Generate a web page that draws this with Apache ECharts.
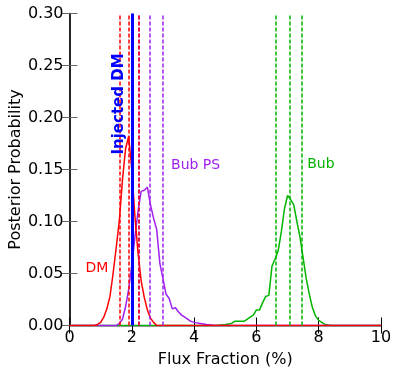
<!DOCTYPE html>
<html>
<head>
<meta charset="utf-8">
<script src="https://cdn.jsdelivr.net/npm/echarts@6/dist/echarts.min.js"></script>
<style>
  html, body { margin: 0; padding: 0; background: #fff; }
  #chart { width: 399px; height: 374px; }
</style>
</head>
<body>
<div id="chart"></div>
<script>
// posterior curves
const dmX = [0, 0.8, 0.9, 1.0, 1.1, 1.2, 1.3, 1.4, 1.5, 1.6, 1.7, 1.8, 1.9, 2.0, 2.1, 2.2, 2.3, 2.4, 2.5, 2.6, 2.7, 2.8, 10]
const dmY = [0, 0, 0.001, 0.003, 0.008, 0.016, 0.028, 0.05, 0.075, 0.101, 0.14, 0.17, 0.182, 0.15, 0.105, 0.07, 0.043, 0.027, 0.015, 0.007, 0.003, 0, 0]

const psX = [0, 1.5, 1.6, 1.7, 1.8, 1.9, 2.0, 2.1, 2.2, 2.3, 2.4, 2.5, 2.6, 2.7, 2.8, 2.9, 3.0, 3.1, 3.2, 3.3, 3.4, 3.5, 3.6, 3.7, 3.8, 3.9, 4.0, 4.2, 4.4, 4.7, 10]
const psY = [0, 0, 0.002, 0.006, 0.018, 0.035, 0.058, 0.085, 0.11, 0.129, 0.13, 0.133, 0.116, 0.103, 0.092, 0.06, 0.045, 0.03, 0.026, 0.016, 0.017, 0.013, 0.01, 0.008, 0.006, 0.004, 0.003, 0.002, 0.001, 0, 0]

const bubX = [0, 4.7, 5.0, 5.2, 5.3, 5.6, 5.7, 5.8, 5.9, 6.0, 6.1, 6.2, 6.3, 6.4, 6.5, 6.6, 6.7, 6.8, 6.9, 7.0, 7.1, 7.2, 7.3, 7.4, 7.5, 7.6, 7.7, 7.8, 7.9, 8.0, 8.1, 8.2, 8.4, 10]
const bubY = [0, 0, 0.001, 0.002, 0.004, 0.004, 0.006, 0.008, 0.01, 0.015, 0.015, 0.022, 0.028, 0.029, 0.057, 0.064, 0.072, 0.09, 0.112, 0.125, 0.121, 0.116, 0.1, 0.085, 0.065, 0.045, 0.03, 0.017, 0.009, 0.005, 0.003, 0.001, 0, 0]

// credible interval lines (16/50/84 %) and injected value
const dmLines = [1.62, 1.91, 2.21]
const psLines = [2.21, 2.57, 2.99]
const bubLines = [6.61, 7.08, 7.46]
const injectedDM = 2.0

const RED = '#ff0000'
const PURPLE = '#a020f0'
const GREEN = '#00b400'
const BLUE = '#0000ff'
const FONT = 'DejaVu Sans'

function pairs(xs, ys) {
  return xs.map((x, i) => [x, ys[i]])
}

function vlines(vals, color) {
  return {
    silent: true,
    symbol: 'none',
    label: { show: false },
    lineStyle: { color: color, type: [4, 2], width: 1.5 },
    data: vals.map(v => ({ xAxis: v }))
  }
}

function textMark(coord, text, color, extra) {
  return {
    silent: true,
    symbolSize: 0,
    data: [{
      coord: coord,
      label: Object.assign({
        show: true,
        formatter: text,
        color: color,
        fontFamily: FONT,
        fontSize: 14
      }, extra || {})
    }]
  }
}

const chart = echarts.init(document.getElementById('chart'))

const axisBase = {
  type: 'value',
  axisTick: { inside: true, length: 8 },
  splitLine: { show: false }
}

const option = {
  backgroundColor: '#fff',
  animation: false,
  grid: { left: 69.5, right: 18, top: 13.5, bottom: 48.5, containLabel: false, outerBoundsMode: 'none' },
  xAxis: [
    Object.assign({}, axisBase, {
      min: 0, max: 10, interval: 2,
      name: 'Flux Fraction (%)',
      nameLocation: 'middle',
      nameGap: 26,
      nameMoveOverlap: false,
      nameTextStyle: { fontFamily: FONT, fontSize: 16, color: '#000' },
      axisLine: { lineStyle: { color: '#000', width: 1 } },
      axisTick: { inside: true, length: 8, lineStyle: { color: '#000' } },
      axisLabel: { fontFamily: FONT, fontSize: 16, color: '#000', margin: 4 }
    }),
    Object.assign({}, axisBase, {
      position: 'top',
      min: 0, max: 10, interval: 2,
      axisLine: { lineStyle: { color: '#777', width: 1.5 } },
      axisTick: { inside: true, length: 8, lineStyle: { color: '#000' } },
      axisLabel: { show: false }
    })
  ],
  yAxis: [
    Object.assign({}, axisBase, {
      min: 0, max: 0.3, interval: 0.05,
      name: 'Posterior Probability',
      nameLocation: 'middle',
      nameGap: 46,
      nameMoveOverlap: false,
      nameTextStyle: { fontFamily: FONT, fontSize: 16, color: '#000' },
      axisLine: { show: true, lineStyle: { color: '#777', width: 1.5 } },
      axisTick: { inside: true, length: 8, lineStyle: { color: '#666' } },
      axisLabel: {
        fontFamily: FONT, fontSize: 16, color: '#000', margin: 6,
        formatter: v => v.toFixed(2)
      }
    }),
    Object.assign({}, axisBase, {
      position: 'right',
      min: 0, max: 0.3, interval: 0.05,
      axisLine: { show: true, lineStyle: { color: '#000', width: 1.5 } },
      axisTick: { inside: true, length: 8, lineStyle: { color: '#666' } },
      axisLabel: { show: false }
    })
  ],
  series: [
    {
      name: 'Bub',
      type: 'line',
      showSymbol: false,
      lineStyle: { color: GREEN, width: 1.5 },
      data: pairs(bubX, bubY),
      markLine: vlines(bubLines, GREEN),
      markPoint: textMark([7.63, 0.155], 'Bub', GREEN, { position: 'right', offset: [-5, 0] })
    },
    {
      name: 'Bub PS',
      type: 'line',
      showSymbol: false,
      lineStyle: { color: PURPLE, width: 1.5 },
      data: pairs(psX, psY),
      markLine: vlines(psLines, PURPLE),
      markPoint: textMark([3.26, 0.154], 'Bub PS', PURPLE, { position: 'right', offset: [-5, 0] })
    },
    {
      name: 'DM',
      type: 'line',
      showSymbol: false,
      lineStyle: { color: RED, width: 1.5 },
      data: pairs(dmX, dmY),
      markLine: vlines(dmLines, RED),
      markPoint: textMark([0.88, 0.055], 'DM', RED, { position: 'inside' })
    },
    {
      name: 'Injected DM',
      type: 'line',
      showSymbol: false,
      data: [],
      markLine: {
        silent: true,
        symbol: 'none',
        label: { show: false },
        lineStyle: { color: BLUE, type: 'solid', width: 3 },
        data: [{ xAxis: injectedDM }]
      },
      markPoint: textMark([1.59, 0.213], 'Injected DM', BLUE, {
        position: 'inside', rotate: 90, fontWeight: 'bold', fontSize: 15
      })
    }
  ]
}

chart.setOption(option)
</script>
</body>
</html>
